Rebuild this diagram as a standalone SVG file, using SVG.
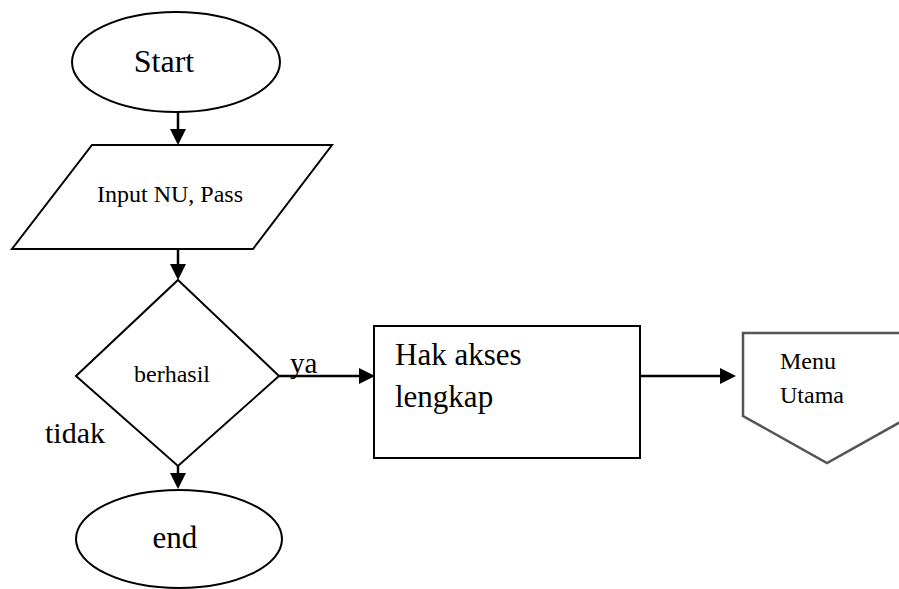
<svg xmlns="http://www.w3.org/2000/svg" width="899" height="589" viewBox="0 0 899 589">
  <style>
    .shape { fill: #ffffff; stroke: #000000; stroke-width: 2; }
    .offpage { fill: #ffffff; stroke: #555555; stroke-width: 2.5; }
    .link { fill: none; stroke: #000000; stroke-width: 2.5; }
    text { font-family: "Liberation Serif", "Times New Roman", serif; fill: #000000; }
  </style>
  <defs>
    <marker id="arrow" markerUnits="userSpaceOnUse" markerWidth="16" markerHeight="16" refX="6" refY="8" orient="auto">
      <path d="M0,0 L16,8 L0,16 z" fill="#000000"/>
    </marker>
  </defs>

  <!-- connectors -->
  <g id="connectors">
    <line class="link" x1="178" y1="113" x2="178" y2="135" marker-end="url(#arrow)"/>
    <line class="link" x1="178" y1="249" x2="178" y2="270" marker-end="url(#arrow)"/>
    <line class="link" x1="279" y1="376" x2="365" y2="376" marker-end="url(#arrow)"/>
    <line class="link" x1="640" y1="376" x2="726" y2="376" marker-end="url(#arrow)"/>
    <line class="link" x1="178" y1="466" x2="178" y2="479" marker-end="url(#arrow)"/>
    <text x="290" y="373" font-size="29">ya</text>
    <text x="45" y="443" font-size="30">tidak</text>
  </g>

  <g id="start">
    <ellipse class="shape" cx="176" cy="62" rx="104" ry="50"/>
    <text x="164" y="72" font-size="32" text-anchor="middle">Start</text>
  </g>

  <g id="input">
    <polygon class="shape" points="92,145 332,145 253,249 12,249"/>
    <text x="170" y="202" font-size="24" text-anchor="middle">Input NU, Pass</text>
  </g>

  <g id="decision">
    <polygon class="shape" points="178,280 279,376 178,466 76,376"/>
    <text x="172" y="382" font-size="24" text-anchor="middle">berhasil</text>
  </g>

  <g id="access">
    <rect class="shape" x="374" y="326" width="266" height="132"/>
    <text x="395" y="365" font-size="31">Hak akses</text>
    <text x="395" y="407" font-size="31">lengkap</text>
  </g>

  <g id="menu">
    <polygon class="offpage" points="743,333 911,333 911,416 827,463 743,416"/>
    <text x="780" y="369" font-size="24">Menu</text>
    <text x="780" y="403" font-size="24">Utama</text>
  </g>

  <g id="end">
    <ellipse class="shape" cx="179" cy="539" rx="103" ry="49"/>
    <text x="175" y="548" font-size="31" text-anchor="middle">end</text>
  </g>
</svg>
